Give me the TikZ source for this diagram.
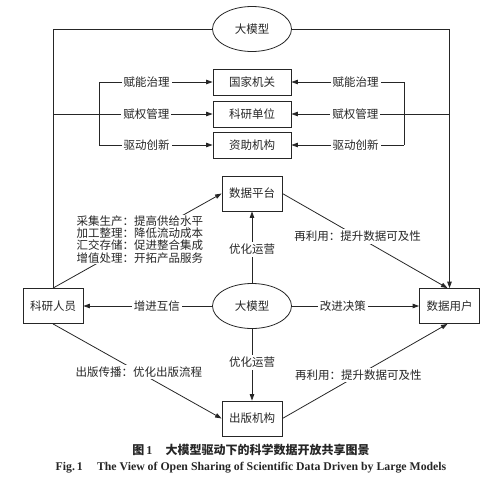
\documentclass[tikz,border=0pt]{standalone}
\usepackage{fontspec}
\setmainfont{Liberation Serif}
\newfontfamily\cjk{Noto Sans CJK SC}
\usetikzlibrary{arrows.meta,shapes.geometric}
\begin{document}
\begin{tikzpicture}[x=1pt,y=-1pt,
  every node/.style={font=\cjk\fontsize{11.5}{12.3}\selectfont, text=black!85},
  line/.style={draw=black!85, line width=0.8pt},
  arr/.style={line, -{Triangle[length=6.5pt,width=4.5pt]}},
  wbox/.style={draw=black!85, line width=0.8pt, minimum width=78pt, minimum height=26pt, inner sep=0pt},
  bbox/.style={draw=black!85, line width=0.8pt, minimum width=60pt, minimum height=35pt, inner sep=0pt},
  oval/.style={ellipse, draw=black!85, line width=0.8pt, minimum width=79pt, minimum height=45pt, inner sep=0pt},
  lbl/.style={fill=white, inner sep=2pt},
  blk/.style={fill=white, inner sep=1pt, align=left}
]
\useasboundingbox (0,0) rectangle (500,490);
% nodes
\node[oval] (topM) at (252,29) {大模型};
\node[wbox] (gjjg) at (252,82) {国家机关};
\node[wbox] (kydw) at (252,114) {科研单位};
\node[wbox] (zzjg) at (252,145) {资助机构};
\node[bbox] (sjpt) at (252,193.5) {数据平台};
\node[oval] (midM) at (252,306) {大模型};
\node[bbox] (kyry) at (53,306) {科研人员};
\node[bbox] (sjyh) at (449.5,306) {数据用户};
\node[bbox] (cbjg) at (252,418.5) {出版机构};
% coordinates
\coordinate (jL) at (53,114);
\coordinate (jR) at (449.5,114);
\coordinate (bL1) at (99,82);
\coordinate (bL3) at (99,145);
\coordinate (bR1) at (404,82);
\coordinate (bR3) at (404,145);
% outer frame
\draw[line] (topM.west) -| (kyry.north);
\draw[arr] (topM.east) -| (sjyh.north);
% brackets
\draw[line] (bL1) -- (bL3);
\draw[line] (bR1) -- (bR3);
% row arrows left
\draw[arr] (bL1) -- node[lbl,pos=0.42]{赋能治理} (gjjg.west);
\draw[arr] (jL) -- node[lbl,pos=0.585]{赋权管理} (kydw.west);
\draw[arr] (bL3) -- node[lbl,pos=0.42]{驱动创新} (zzjg.west);
% row arrows right
\draw[arr] (bR1) -- node[lbl,pos=0.43]{赋能治理} (gjjg.east);
\draw[arr] (jR) -- node[lbl,pos=0.595]{赋权管理} (kydw.east);
\draw[arr] (bR3) -- node[lbl,pos=0.43]{驱动创新} (zzjg.east);
% middle model
\draw[arr] (midM.north) -- node[lbl,pos=0.47]{优化运营} (sjpt.south);
\draw[arr] (midM.south) -- node[lbl,pos=0.47]{优化运营} (cbjg.north);
\draw[arr] (midM.west) -- node[lbl,pos=0.43]{增进互信} (kyry.east);
\draw[arr] (midM.east) -- node[lbl,pos=0.4]{改进决策} (sjyh.west);
% diagonals
\draw[arr] (kyry.north) -- node[blk,pos=0.515]{采集生产：提高供给水平\\加工整理：降低流动成本\\汇交存储：促进整合集成\\增值处理：开拓产品服务} (sjpt.west);
\draw[arr] (sjpt.east) -- node[lbl,pos=0.455]{再利用：提升数据可及性} ([xshift=-2pt]sjyh.north);
\draw[arr] (kyry.south) -- node[lbl,pos=0.51]{出版传播：优化出版流程} (cbjg.west);
\draw[arr] (cbjg.east) -- node[lbl,pos=0.46]{再利用：提升数据可及性} ([xshift=-2pt]sjyh.south);
% captions
\node[font=\cjk\bfseries\fontsize{12}{13}\selectfont] (cap1) at (251,450) {图\,{\rmfamily 1}\hspace{1.1em}大模型驱动下的科学数据开放共享图景};
\node[font=\rmfamily\bfseries\fontsize{11.8}{13}\selectfont] (cap2) at (251,468) {Fig.\,1\hspace{1.2em}The View of Open Sharing of Scientific Data Driven by Large Models};
\end{tikzpicture}
\end{document}
